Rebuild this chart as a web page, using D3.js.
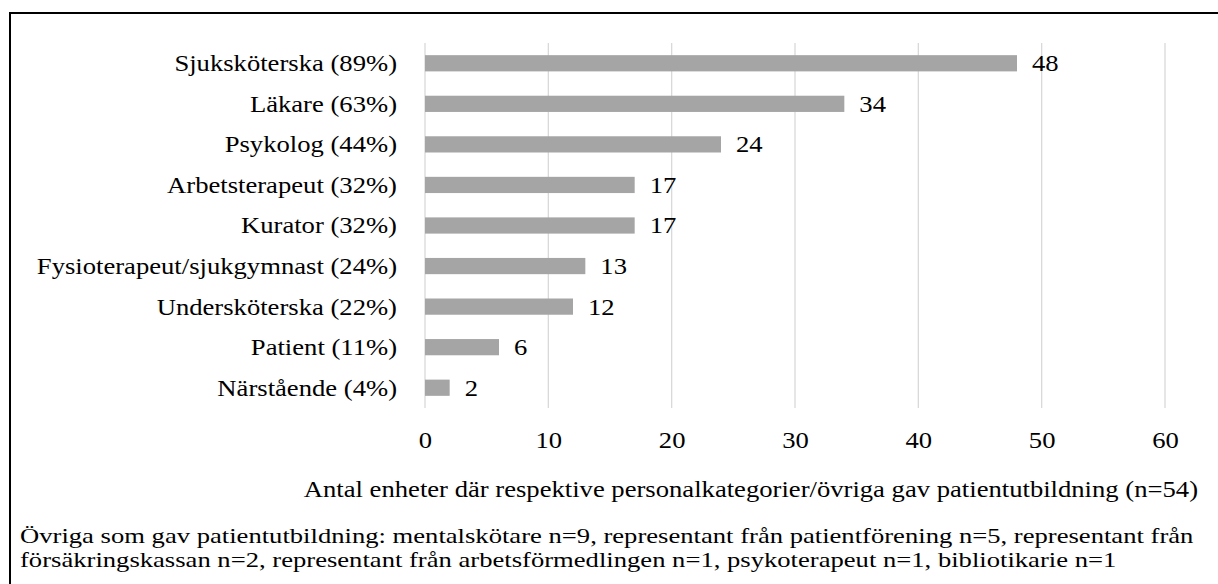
<!DOCTYPE html>
<html>
<head>
<meta charset="utf-8">
<script src="https://cdn.jsdelivr.net/npm/d3@7"></script>
<style>
  html, body { margin: 0; padding: 0; background: #fff; }
  svg text { font-family: "Liberation Serif", "Times New Roman", serif; fill: #000; }
</style>
</head>
<body>
<svg id="chart" width="1218" height="584"></svg>
<script>
// Personnel categories (share of units in parentheses) and number of units
const categories = [
  "Sjuksköterska (89%)",
  "Läkare (63%)",
  "Psykolog (44%)",
  "Arbetsterapeut (32%)",
  "Kurator (32%)",
  "Fysioterapeut/sjukgymnast (24%)",
  "Undersköterska (22%)",
  "Patient (11%)",
  "Närstående (4%)"
];
const units = [48, 34, 24, 17, 17, 13, 12, 6, 2];
const xTicks = [0, 10, 20, 30, 40, 50, 60];
const axisTitle = "Antal enheter där respektive personalkategorier/övriga gav patientutbildning (n=54)";
const footnoteLines = [
  "Övriga som gav patientutbildning: mentalskötare n=9, representant från patientförening n=5, representant från",
  "försäkringskassan n=2, representant från arbetsförmedlingen n=1, psykoterapeut n=1, bibliotikarie n=1"
];

const svg = d3.select("#chart");
const fontSize = 24;
const stretch = "scale(1.11,1)";   // text is set slightly wide

const x = d3.scaleLinear().domain([0, 60]).range([425, 1165]);
const y = d3.scaleBand().domain(categories).range([43, 408]).paddingInner(0.6).paddingOuter(0.3);

// Places a text element at (px, py) with the given horizontal stretch
function place(sel, px, py, tf = stretch) {
  sel.attr("transform", (d, i) => `translate(${px(d, i)},${py(d, i)}) ${tf}`);
}

// Frame lines (top and left)
svg.append("line").attr("x1", 9).attr("x2", 1218).attr("y1", 13).attr("y2", 13)
  .attr("stroke", "#000").attr("stroke-width", 2);
svg.append("line").attr("x1", 10).attr("x2", 10).attr("y1", 12).attr("y2", 584)
  .attr("stroke", "#000").attr("stroke-width", 2);

// Vertical gridlines
svg.append("g").selectAll("line").data(xTicks).join("line")
  .attr("x1", d => x(d)).attr("x2", d => x(d))
  .attr("y1", 43).attr("y2", 408)
  .attr("stroke", "#d9d9d9").attr("stroke-width", 1.3);

// Bars
svg.append("g").selectAll("rect").data(units).join("rect")
  .attr("x", x(0))
  .attr("y", (d, i) => y(categories[i]))
  .attr("width", d => x(d) - x(0))
  .attr("height", y.bandwidth())
  .attr("fill", "#a5a5a5");

// Value labels
svg.append("g").selectAll("text").data(units).join("text")
  .attr("dy", "0.33em")
  .attr("font-size", fontSize)
  .text(d => d)
  .call(place, d => x(d) + 15, (d, i) => y(categories[i]) + y.bandwidth() / 2);

// Category labels
svg.append("g").selectAll("text").data(categories).join("text")
  .attr("dy", "0.33em")
  .attr("text-anchor", "end")
  .attr("font-size", fontSize)
  .text(d => d)
  .call(place, () => 397, d => y(d) + y.bandwidth() / 2);

// X axis tick labels
const xAxis = d3.axisBottom(x).tickValues(xTicks).tickSize(0).tickPadding(0);
const gx = svg.append("g").attr("transform", "translate(0,448)").call(xAxis);
gx.select(".domain").remove();
gx.selectAll("text")
  .attr("dy", null)
  .attr("y", 0)
  .attr("transform", stretch)
  .attr("font-size", fontSize)
  .attr("font-family", "Liberation Serif, Times New Roman, serif")
  .attr("fill", "#000");

// Axis title
svg.append("text")
  .attr("text-anchor", "end")
  .attr("font-size", fontSize)
  .text(axisTitle)
  .call(place, () => 1198, () => 497);

// Footnote, two tight lines
svg.append("g").selectAll("text").data(footnoteLines).join("text")
  .attr("font-size", 21)
  .text(d => d)
  .call(place, () => 20, (d, i) => 543 + i * 23.5, "scale(1.268,1)");
</script>
</body>
</html>
